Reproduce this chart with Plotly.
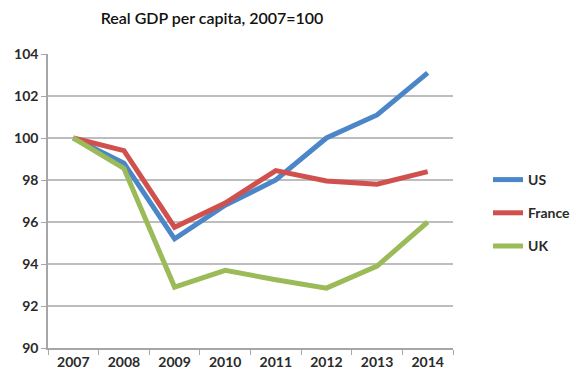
import plotly.graph_objects as go

# Real GDP per capita index, 2007 = 100
years = ["2007", "2008", "2009", "2010", "2011", "2012", "2013", "2014"]
us = [100.0, 98.8, 95.2, 96.8, 98.0, 100.0, 101.1, 103.1]
france = [100.0, 99.4, 95.75, 96.9, 98.45, 97.95, 97.8, 98.4]
uk = [100.0, 98.55, 92.9, 93.7, 93.25, 92.85, 93.9, 96.0]

series = [
    ("US", us, "#4A86C8"),
    ("France", france, "#D0504D"),
    ("UK", uk, "#9BBB59"),
]

fig = go.Figure()
for i, (name, vals, color) in enumerate(series):
    fig.add_trace(go.Scatter(
        x=years, y=vals, name=name, mode="lines",
        line=dict(color=color, width=5),
        legendgroup=f"g{i}",
    ))

axis_font = dict(family="Lato", size=14, color="#2a2a2a", weight="bold")

fig.update_layout(
    width=574, height=376,
    margin=dict(l=48, r=121, t=54, b=28, autoexpand=False),
    paper_bgcolor="white", plot_bgcolor="white",
    title=dict(
        text="Real GDP per capita, 2007=100",
        font=dict(family="Lato", size=16, color="#111111", weight=600),
        x=212 / 574, xanchor="center", y=1 - 18 / 376, yanchor="middle",
    ),
    xaxis=dict(
        type="category", range=[-0.5, 7.5], tickson="boundaries",
        showline=True, linecolor="#a6a6a6", linewidth=1.5,
        ticks="outside", ticklen=5, tickcolor="#a6a6a6",
        showgrid=False, tickfont=axis_font,
    ),
    yaxis=dict(
        range=[90, 104], dtick=2, tick0=90,
        showline=True, linecolor="#a6a6a6", linewidth=1.5,
        ticks="outside", ticklen=5, tickcolor="#a6a6a6",
        gridcolor="#bdbdbd", gridwidth=1.6, zeroline=False,
        tickfont=axis_font,
    ),
    legend=dict(
        x=(488 - 48) / 405, xanchor="left",
        y=1 - (213 - 54) / 294, yanchor="middle",
        font=dict(family="Lato", size=14, color="#2a2a2a", weight="bold"),
        tracegroupgap=12, itemwidth=30,
        bgcolor="rgba(0,0,0,0)",
    ),
    showlegend=True,
)

fig.write_html("out.html")
